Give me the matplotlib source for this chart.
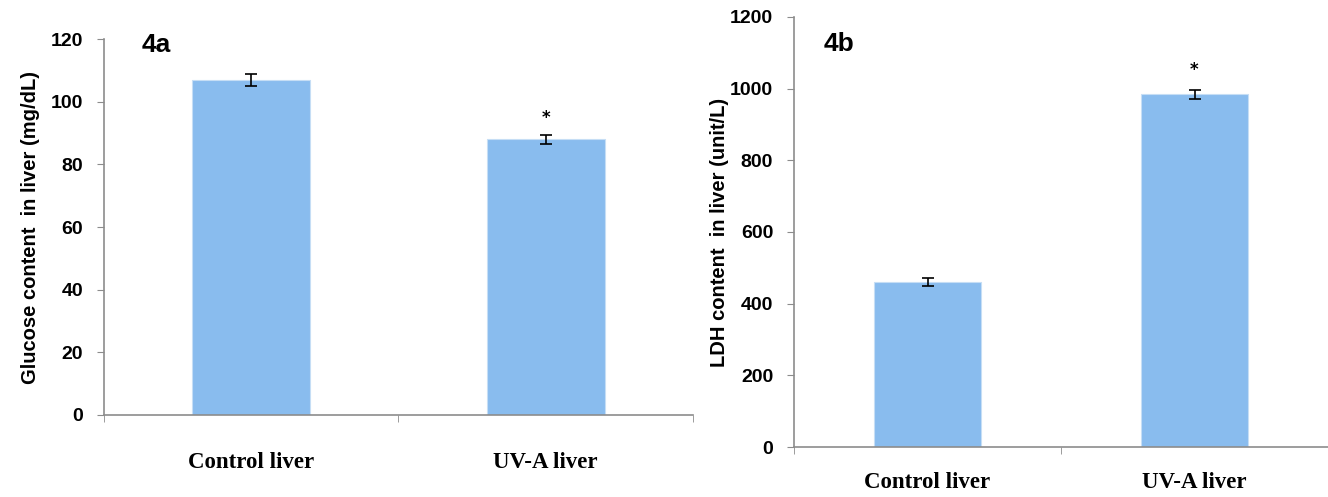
import matplotlib.pyplot as plt
import numpy as np

# glucose and LDH in liver, control vs UV-A exposed
groups = ['Control liver', 'UV-A liver']
glucose = [106.8, 88.0]
glucose_err = [1.9, 1.4]
ldh = [460, 984]
ldh_err = [11, 13]
signif = ['', '*']

bar_color = '#89bcee'
spine_color = '#8c8c8c'


def draw_panel(ax, values, errs, ymax, step, ylabel, tag, tag_pos, star_pad, xpad, ypad):
    x = np.arange(len(groups))
    ax.bar(x, values, width=0.4, color=bar_color, edgecolor='#c6def5', linewidth=0.8)
    ax.errorbar(x, values, yerr=errs, fmt='none', ecolor='black',
                elinewidth=1.2, capsize=4, capthick=1.2)
    for xi, v, e, s in zip(x, values, errs, signif):
        if s:
            ax.text(xi, v + e + star_pad, s, ha='center', va='bottom',
                    fontsize=12, fontweight='bold')

    ax.set_xlim(-0.5, len(groups) - 0.5)
    ax.set_ylim(0, ymax)
    ax.set_yticks(np.arange(0, ymax + 1, step))
    ax.set_xticks([-0.5, 0.5, 1.5], minor=True)
    ax.set_xticks(x)
    ax.set_xticklabels(groups, family=['Liberation Serif'], fontweight='bold', fontsize=16.5)
    ax.tick_params(axis='x', which='major', length=0, pad=xpad)
    ax.tick_params(axis='x', which='minor', length=5, color=spine_color)
    ax.tick_params(axis='y', length=5, color=spine_color, pad=10)
    for lab in ax.get_yticklabels():
        lab.set_family(['Liberation Sans'])
        lab.set_fontweight('bold')
        lab.set_fontsize(14)

    for side in ['top', 'right']:
        ax.spines[side].set_visible(False)
    for side in ['left', 'bottom']:
        ax.spines[side].set_color(spine_color)
        ax.spines[side].set_linewidth(1.2)

    ax.set_ylabel(ylabel, fontsize=14.5, fontweight='bold', family=['Liberation Sans'], labelpad=ypad)
    ax.text(tag_pos[0], tag_pos[1], tag, transform=ax.transAxes, ha='left', va='center',
            fontsize=19, fontweight='bold', family=['Liberation Sans'])


fig = plt.figure(figsize=(13.28, 4.97), dpi=100)
ax1 = fig.add_axes([0.0783, 0.165, 0.4435, 0.7565])
ax2 = fig.add_axes([0.5979, 0.1006, 0.4021, 0.8652])

draw_panel(ax1, glucose, glucose_err, 120, 20, 'Glucose content  in liver (mg/dL)',
           '4a', (0.0645, 0.984), 2.5, 27, 8)
draw_panel(ax2, ldh, ldh_err, 1200, 200, 'LDH content  in liver (unit/L)',
           '4b', (0.056, 0.938), 30, 18, 1)

fig.savefig('out.png', dpi=100)
